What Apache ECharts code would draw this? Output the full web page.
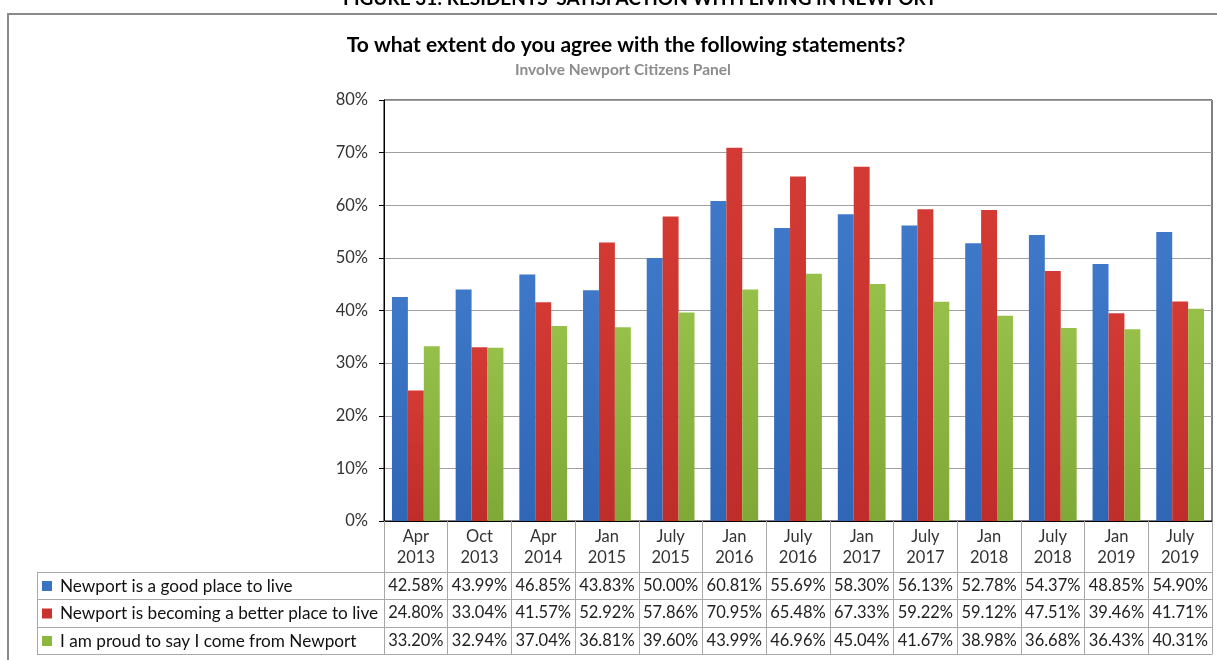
<!DOCTYPE html>
<html>
<head>
<meta charset="utf-8">
<script src="https://cdn.jsdelivr.net/npm/echarts@6/dist/echarts.min.js"></script>
<style>
html,body{margin:0;padding:0;background:#fff;}
#chart{width:1217px;height:660px;}
</style>
</head>
<body>
<div id="chart"></div>
<script>
const figureCaption = "FIGURE 31: RESIDENTS' SATISFACTION WITH LIVING IN NEWPORT";
const chartTitle = "To what extent do you agree with the following statements?";
const chartSubtitle = "Involve Newport Citizens Panel";
const categories = ["Apr\n2013","Oct\n2013","Apr\n2014","Jan\n2015","July\n2015","Jan\n2016","July\n2016","Jan\n2017","July\n2017","Jan\n2018","July\n2018","Jan\n2019","July\n2019"];
const seriesNames = ["Newport is a good place to live","Newport is becoming a better place to live","I am proud to say I come from Newport"];
const goodPlace = [42.58,43.99,46.85,43.83,50.00,60.81,55.69,58.30,56.13,52.78,54.37,48.85,54.90];
const becomingBetter = [24.80,33.04,41.57,52.92,57.86,70.95,65.48,67.33,59.22,59.12,47.51,39.46,41.71];
const proud = [33.20,32.94,37.04,36.81,39.60,43.99,46.96,45.04,41.67,38.98,36.68,36.43,40.31];
const yTicks = [0,10,20,30,40,50,60,70,80];

const FONT = 'Lato';
const colors = [
  new echarts.graphic.LinearGradient(0,0,0,1,[{offset:0,color:'#3f78c8'},{offset:1,color:'#2f66b6'}]),
  new echarts.graphic.LinearGradient(0,0,0,1,[{offset:0,color:'#d33a34'},{offset:1,color:'#bf2d2a'}]),
  new echarts.graphic.LinearGradient(0,0,0,1,[{offset:0,color:'#96c04a'},{offset:1,color:'#7fa836'}])
];
const legendColors = ['#3a73c0','#c9322f','#8cb83f'];
const rows = [goodPlace, becomingBetter, proud];
const rowOffsets = [51, 78, 106, 133];
const tableGray = '#a8a8a8';

const chart = echarts.init(document.getElementById('chart'), null, {renderer:'canvas'});

const xAxes = [{
  type:'category', data:categories, gridIndex:0, position:'bottom',
  axisLine:{show:true, lineStyle:{color:'#000', width:1}},
  axisTick:{show:true, length:133, lineStyle:{color:tableGray}},
  axisLabel:{fontFamily:FONT, fontSize:16.5, color:'#333', lineHeight:21, margin:5, interval:0},
  splitLine:{show:false}
}];
for (let r = 0; r < 4; r++) {
  xAxes.push({
    type:'category', data:categories, gridIndex:0, position:'bottom', offset:rowOffsets[r],
    axisLine:{show:true, lineStyle:{color:tableGray, width:1}},
    axisTick:{show:false},
    axisLabel:{show: r < 3, fontFamily:FONT, fontSize:16.5, color:'#222', margin:5, interval:0,
      formatter:(v, i) => r < 3 ? rows[r][i].toFixed(2) + '%' : ''},
    splitLine:{show:false}
  });
}

const gLines = [];
const leftX = 37, plotLeft = 384;
[572, 599, 627, 654].forEach(y => {
  gLines.push({type:'line', shape:{x1:leftX, y1:y+0.5, x2:plotLeft, y2:y+0.5}, style:{stroke:tableGray, lineWidth:1}, silent:true});
});
gLines.push({type:'line', shape:{x1:leftX+0.5, y1:572, x2:leftX+0.5, y2:654}, style:{stroke:tableGray, lineWidth:1}, silent:true});
gLines.push({type:'polyline', shape:{points:[[8,670],[8,14],[1217,14]]}, style:{stroke:'#8a8a8a', lineWidth:2, fill:null}, silent:true});
gLines.push({type:'text', x:640, y:-11, style:{text:figureCaption, font:'bold 19px ' + FONT, fill:'#000', textAlign:'center', textVerticalAlign:'top'}, silent:true});

const option = {
  backgroundColor:'#fff',
  animation:false,
  title:[
    {text:chartTitle, left:621, top:30, textAlign:'center',
     textStyle:{fontFamily:FONT, fontSize:21, fontWeight:'bold', color:'#000'}},
    {text:chartSubtitle, left:618, top:57, textAlign:'center',
     textStyle:{fontFamily:FONT, fontSize:15.5, fontWeight:'bold', color:'#8c8c8c'}}
  ],
  legend:{
    orient:'vertical', left:42, top:577, padding:0, itemGap:9.5, itemWidth:10, itemHeight:10, icon:'rect',
    data:seriesNames.map((n,k)=>({name:n, itemStyle:{color:legendColors[k]}})),
    textStyle:{fontFamily:FONT, fontSize:17.2, color:'#111', lineHeight:18, padding:[0,0,0,3]},
    selectedMode:false
  },
  grid:{left:384, right:5, top:100, bottom:139, show:true, borderColor:'#000', borderWidth:1, containLabel:false},
  xAxis:xAxes,
  yAxis:{
    type:'value', min:yTicks[0], max:yTicks[yTicks.length-1], interval:yTicks[1]-yTicks[0],
    axisLine:{show:true, lineStyle:{color:'#000'}},
    axisTick:{show:true, length:5, lineStyle:{color:'#000'}},
    axisLabel:{fontFamily:FONT, fontSize:16.5, color:'#333', margin:16, formatter:v => v + '%'},
    splitLine:{show:true, lineStyle:{color:'#a0a0a0', width:1}}
  },
  series:seriesNames.map((name, k) => ({
    name:name, type:'bar', xAxisIndex:0, data:rows[k],
    barGap:'0%', barCategoryGap:'25%',
    itemStyle:{color:colors[k]},
    emphasis:{disabled:true}
  })),
  color:legendColors,
  graphic:gLines
};
chart.setOption(option);
</script>
</body>
</html>
